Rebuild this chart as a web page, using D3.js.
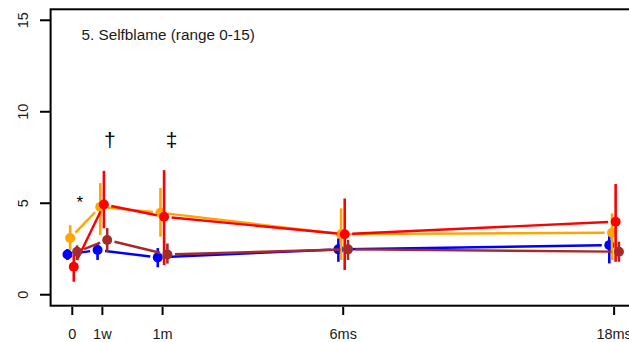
<!DOCTYPE html>
<html><head><meta charset="utf-8">
<script src="https://cdn.jsdelivr.net/npm/d3@7"></script>
<style>html,body{margin:0;padding:0;background:#fff;}svg{display:block;font-family:"Liberation Sans",Arial,sans-serif;}</style>
</head><body>
<script>
const timePos = [0, 1, 3, 9, 18];
const tickLabels = ["0", "1w", "1m", "6ms", "18ms"];
const seriesNames = ["blue", "orange", "red", "brown"];
const seriesColors = ["#0000FF", "#FFA500", "#FF0000", "#A52A2A"];
const seriesOffsets = [-0.16, -0.07, 0.05, 0.16];
const blueMean = [2.2, 2.44, 2.04, 2.48, 2.71];
const blueLo = [1.9, 1.9, 1.5, 1.8, 1.71];
const blueHi = [2.5, 2.8, 2.55, 3.08, 3.44];
const orangeMean = [3.1, 4.8, 4.48, 3.31, 3.39];
const orangeLo = [2.45, 3.26, 3.17, 1.9, 1.9];
const orangeHi = [3.8, 6.1, 5.83, 4.72, 4.45];
const redMean = [1.53, 4.93, 4.26, 3.31, 3.99];
const redLo = [0.71, 3.63, 1.62, 1.35, 1.8];
const redHi = [2.17, 6.77, 6.81, 5.26, 6.05];
const brownMean = [2.35, 2.99, 2.2, 2.48, 2.35];
const brownLo = [1.9, 2.35, 1.7, 1.9, 1.8];
const brownHi = [2.7, 3.64, 2.8, 2.99, 2.9];
const yTicks = [0, 5, 10, 15];
const title = "5. Selfblame (range 0-15)";
const marks = [{t: 0.25, v: 4.75, s: "*"}, {t: 1.25, v: 8.1, s: "\u2020"}, {t: 3.3, v: 8.1, s: "\u2021"}];

const means = [blueMean, orangeMean, redMean, brownMean];
const los = [blueLo, orangeLo, redLo, brownLo];
const his = [blueHi, orangeHi, redHi, brownHi];

const W = 629, H = 342;
const svg = d3.select("body").append("svg").attr("width", W).attr("height", H);
const x = d3.scaleLinear().domain([-0.72, 18.72]).range([50.6, 635.8]);
const y = d3.scaleLinear().domain([-0.6, 15.6]).range([305.7, 9.3]);

// plot box
svg.append("rect").attr("x", 50.6).attr("y", 9.3).attr("width", 635.8 - 50.6).attr("height", 305.7 - 9.3)
  .attr("fill", "none").attr("stroke", "#000").attr("stroke-width", 2);

// y axis
const ya = svg.append("g");
yTicks.forEach(v => {
  ya.append("line").attr("x1", 40).attr("x2", 50.6).attr("y1", y(v)).attr("y2", y(v)).attr("stroke", "#000").attr("stroke-width", 2);
  ya.append("text").attr("transform", `translate(27.5,${y(v)}) rotate(-90)`).attr("text-anchor", "middle")
    .attr("font-size", 14.5).attr("fill", "#1a1a1a").text(v);
});
// x axis
const xa = svg.append("g");
timePos.forEach((t, i) => {
  xa.append("line").attr("x1", x(t)).attr("x2", x(t)).attr("y1", 307).attr("y2", 315).attr("stroke", "#000").attr("stroke-width", 2);
  xa.append("text").attr("x", x(t)).attr("y", 338.5).attr("text-anchor", "middle")
    .attr("font-size", 14.5).attr("fill", "#1a1a1a").text(tickLabels[i]);
});

// title
svg.append("text").attr("x", 81.5).attr("y", 39.5).attr("font-size", 15.3).attr("fill", "#1a1a1a").text(title);

const plot = svg.append("g");
const gap = 7.5;
means.forEach((m, s) => {
  const col = seriesColors[s];
  const g = plot.append("g");
  const pts = m.map((v, i) => [x(timePos[i] + seriesOffsets[s]), y(v)]);
  // error bars
  m.forEach((v, i) => {
    g.append("line").attr("x1", x(timePos[i] + seriesOffsets[s])).attr("x2", x(timePos[i] + seriesOffsets[s]))
      .attr("y1", y(los[s][i])).attr("y2", y(his[s][i])).attr("stroke", col).attr("stroke-width", 2.6);
  });
  // lines with gaps
  for (let i = 0; i < pts.length - 1; i++) {
    const [x1, y1] = pts[i], [x2, y2] = pts[i + 1];
    const dx = x2 - x1, dy = y2 - y1, L = Math.hypot(dx, dy);
    if (L <= 2 * gap) continue;
    const ux = dx / L, uy = dy / L;
    g.append("line").attr("x1", x1 + ux * gap).attr("y1", y1 + uy * gap)
      .attr("x2", x2 - ux * gap).attr("y2", y2 - uy * gap).attr("stroke", col).attr("stroke-width", 2.4);
  }
  g.selectAll("circle").data(pts).join("circle").attr("cx", d => d[0]).attr("cy", d => d[1]).attr("r", 5).attr("fill", col);
});

// significance marks
marks.forEach(mk => {
  svg.append("text").attr("x", x(mk.t)).attr("y", y(mk.v)).attr("text-anchor", "middle")
    .attr("font-size", mk.s === "*" ? 17 : 21).attr("fill", "#000").text(mk.s);
});
</script>
</body></html>
